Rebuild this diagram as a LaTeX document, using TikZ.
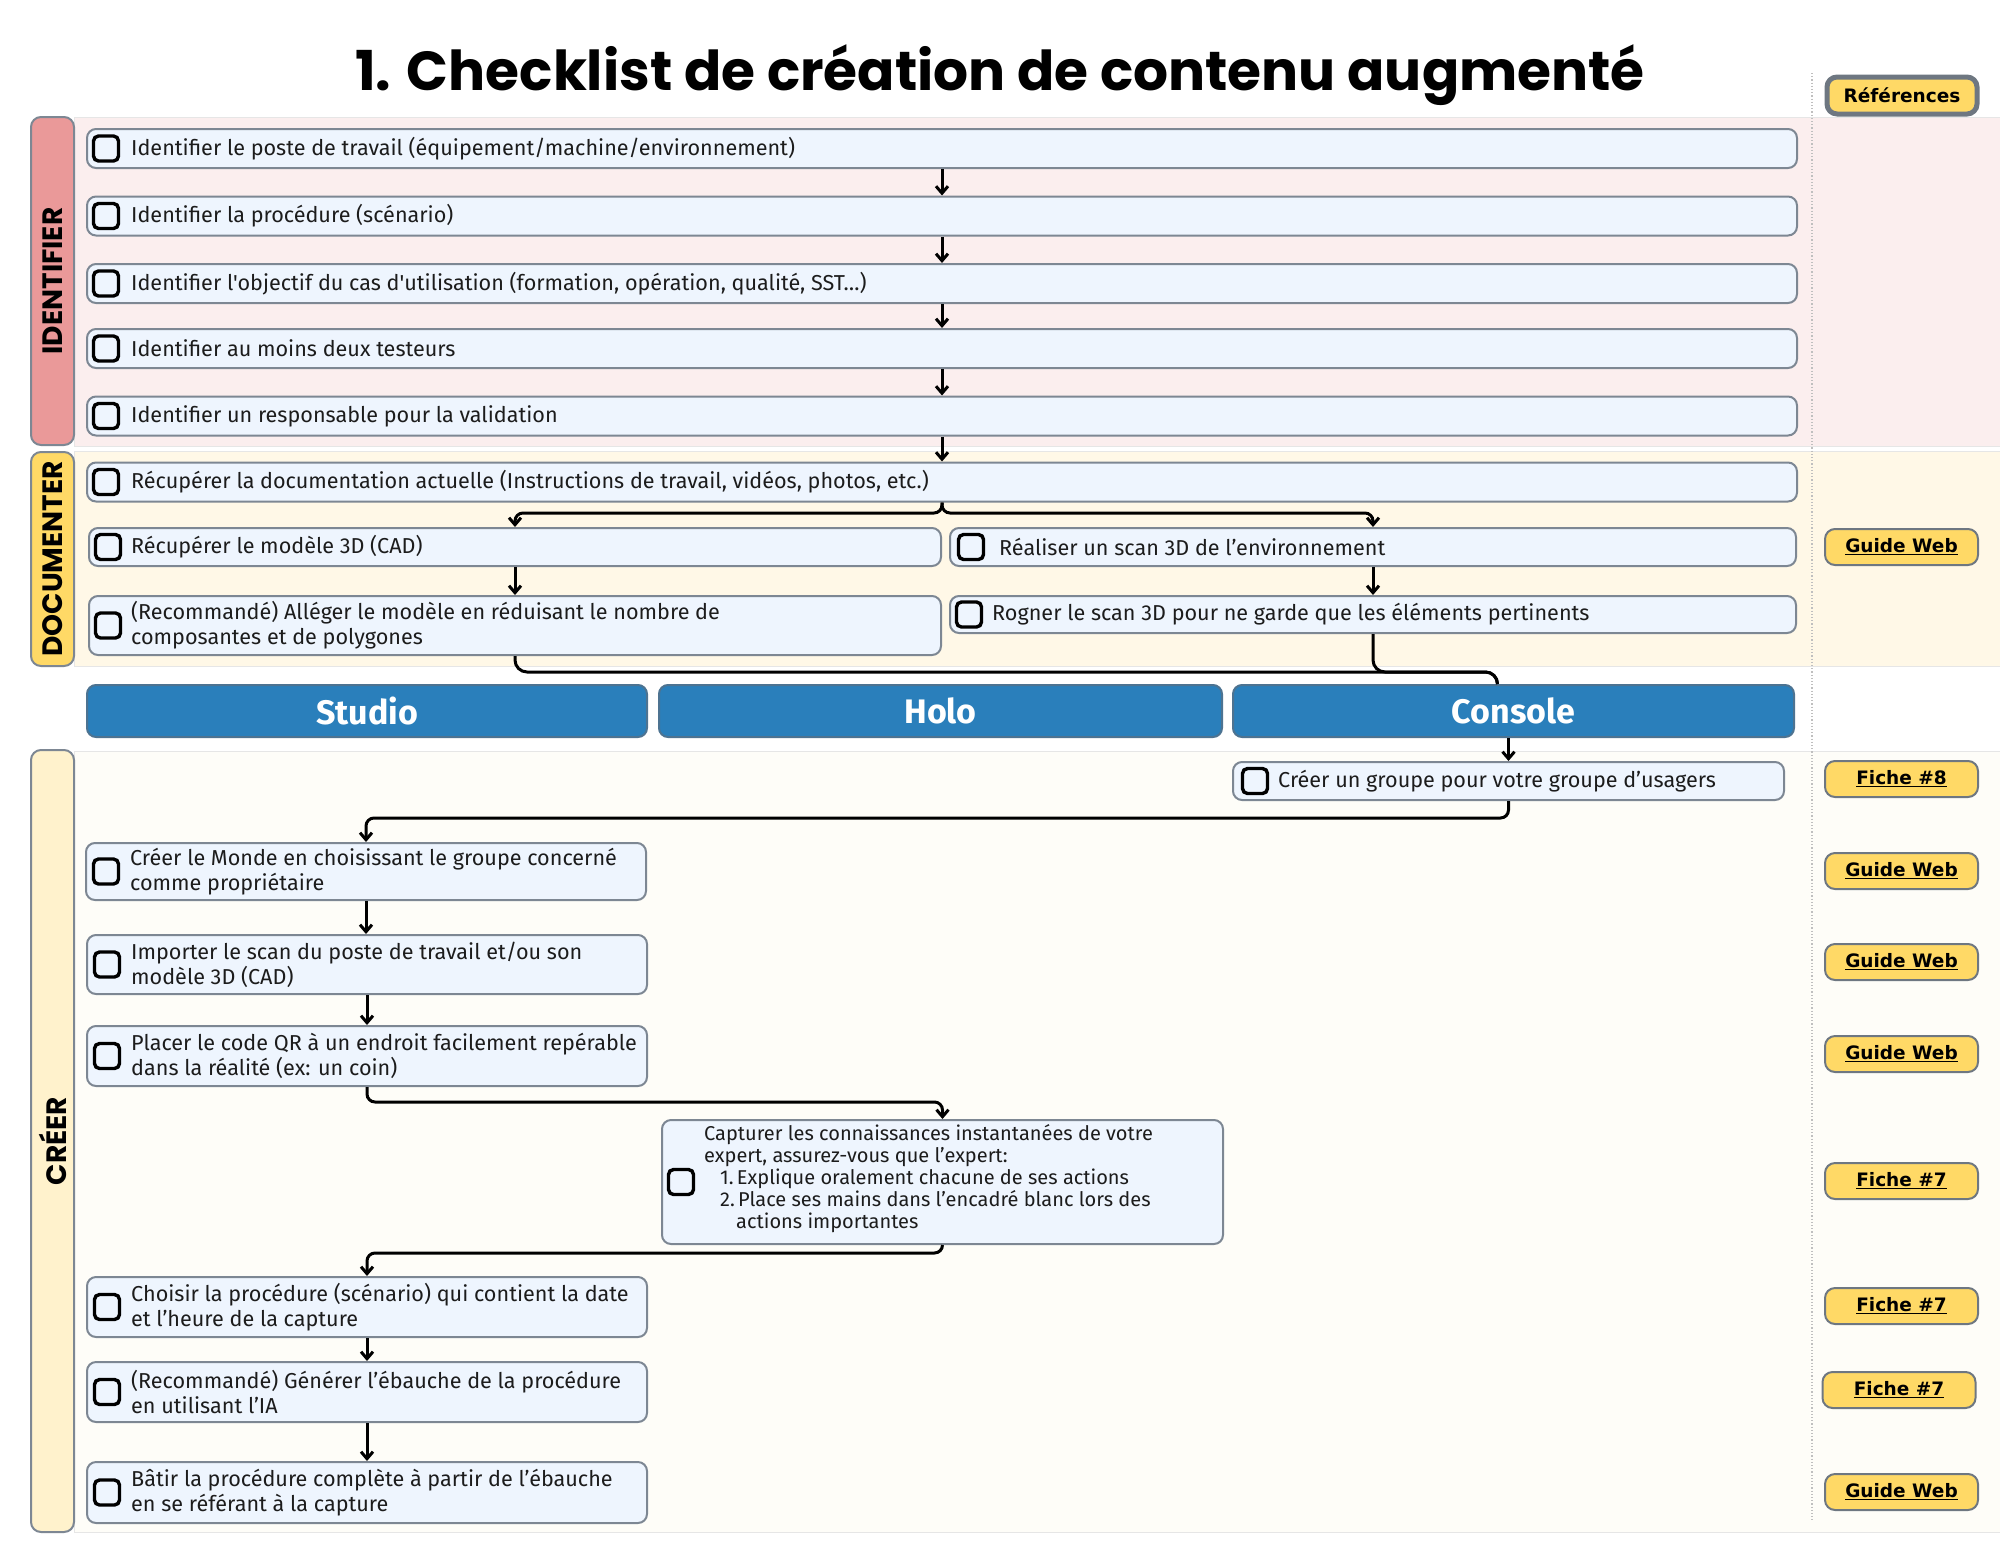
\documentclass[tikz,border=0pt]{standalone}
\usepackage{fontspec}
\newfontfamily\bodyfont{Fira Sans}
\newfontfamily\titlefont{Poppins}
\newfontfamily\badgefont{DejaVu Sans}
\usetikzlibrary{arrows.meta}
\definecolor{identfill}{HTML}{EA9999}
\definecolor{identbg}{HTML}{FBEEEE}
\definecolor{docfill}{HTML}{FFD966}
\definecolor{docbg}{HTML}{FFF8E7}
\definecolor{creerfill}{HTML}{FFF2CC}
\definecolor{creerbg}{HTML}{FEFDF8}
\definecolor{boxfill}{HTML}{EEF5FE}
\definecolor{boxline}{HTML}{7D8793}
\definecolor{laneline}{HTML}{7D8793}
\definecolor{bandline}{HTML}{E6E6E6}
\definecolor{toolblue}{HTML}{2A7FBB}
\definecolor{toolline}{HTML}{4D7391}
\definecolor{refyellow}{HTML}{FFD966}
\definecolor{refline}{HTML}{6E7781}
\definecolor{textdark}{HTML}{1C1C1C}
\begin{document}
\begin{tikzpicture}[x=1pt, y=-1pt,
  stepbox/.style={draw=boxline, fill=boxfill, line width=2, rounded corners=9, inner sep=0},
  chk/.style={draw=black, line width=3.4, rounded corners=5, minimum width=25, minimum height=25, inner sep=0},
  steptext/.style={anchor=west, align=left, inner sep=0, text=textdark, font=\bodyfont\fontsize{21.6}{25}\selectfont},
  lanebox/.style={draw=laneline, line width=2, rounded corners=10, minimum width=43, inner sep=0},
  lanetext/.style={rotate=90, text=black, font=\titlefont\bfseries\fontsize{28}{28}\selectfont},
  tool/.style={draw=toolline, fill=toolblue, line width=2, rounded corners=9, minimum height=52, text=white, font=\bodyfont\bfseries\fontsize{34}{34}\selectfont},
  ref/.style={draw=refline, fill=refyellow, line width=2, rounded corners=10, minimum width=153, minimum height=36, inner sep=0, font=\badgefont\bfseries\fontsize{18.5}{18.5}\selectfont},
  arr/.style={line width=3, -{Straight Barb[length=7pt, width=12pt]}},
  link/.style={line width=3, rounded corners=12}]
\useasboundingbox (0,0) rectangle (2000,1545);
\fill[white] (0,0) rectangle (2000,1545);

% bands
\filldraw[fill=identbg, draw=bandline, line width=1] (74,117) rectangle (2001,446);
\filldraw[fill=docbg, draw=bandline, line width=1] (74,451) rectangle (2001,666);
\filldraw[fill=creerbg, draw=bandline, line width=1] (74,751) rectangle (2001,1532);
\draw[dotted, line width=1.2, black!25] (1812,73) -- (1812,1520);

\node[lanebox, fill=identfill, minimum height=328] (lid) at (52.5,281) {};
\node[lanetext] at (lid.center) {IDENTIFIER};
\node[lanebox, fill=docfill, minimum height=214] (ldoc) at (52.5,559) {};
\node[lanetext] at (ldoc.center) {DOCUMENTER};
\node[lanebox, fill=creerfill, minimum height=782] (lcreer) at (52.5,1141) {};
\node[lanetext] at (lcreer.center) {CRÉER};

\node[anchor=base, text=black, font=\titlefont\bfseries\fontsize{55}{55}\selectfont] (title) at (1000,90) {1. Checklist de création de contenu augmenté};
\node[ref, line width=5, minimum width=150, minimum height=37] (refhead) at (1902,95.5) {Références};

% IDENTIFIER
\node[stepbox, minimum width=1710, minimum height=39] (id1) at (942,148.5) {};
\node[chk] at ([xshift=20]id1.west) {};
\node[steptext] at ([xshift=45]id1.west) {Identifier le poste de travail (équipement/machine/environnement)};
\node[stepbox, minimum width=1710, minimum height=39] (id2) at (942,216) {};
\node[chk] at ([xshift=20]id2.west) {};
\node[steptext] at ([xshift=45]id2.west) {Identifier la procédure (scénario)};
\node[stepbox, minimum width=1710, minimum height=39] (id3) at (942,283.5) {};
\node[chk] at ([xshift=20]id3.west) {};
\node[steptext] at ([xshift=45]id3.west) {Identifier l'objectif du cas d'utilisation (formation, opération, qualité, SST…)};
\node[stepbox, minimum width=1710, minimum height=39] (id4) at (942,348.5) {};
\node[chk] at ([xshift=20]id4.west) {};
\node[steptext] at ([xshift=45]id4.west) {Identifier au moins deux testeurs};
\node[stepbox, minimum width=1710, minimum height=39] (id5) at (942,416) {};
\node[chk] at ([xshift=20]id5.west) {};
\node[steptext] at ([xshift=45]id5.west) {Identifier un responsable pour la validation};
\draw[arr] (id1.south) -- (id2.north);
\draw[arr] (id2.south) -- (id3.north);
\draw[arr] (id3.south) -- (id4.north);
\draw[arr] (id4.south) -- (id5.north);

% DOCUMENTER
\node[stepbox, minimum width=1710, minimum height=39] (doc1) at (942,482) {};
\node[chk] at ([xshift=20]doc1.west) {};
\node[steptext] at ([xshift=45]doc1.west) {Récupérer la documentation actuelle (Instructions de travail, vidéos, photos, etc.)};
\node[stepbox, minimum width=852, minimum height=38] (doc2l) at (515,547) {};
\node[chk] at ([xshift=20]doc2l.west) {};
\node[steptext] at ([xshift=43]doc2l.west) {Récupérer le modèle 3D (CAD)};
\node[stepbox, minimum width=846, minimum height=38] (doc2r) at (1373,547) {};
\node[chk] at ([xshift=22]doc2r.west) {};
\node[steptext] at ([xshift=50]doc2r.west) {Réaliser un scan 3D de l’environnement};
\node[stepbox, minimum width=852, minimum height=59] (doc3l) at (515,625.5) {};
\node[chk] at ([xshift=20]doc3l.west) {};
\node[steptext] at ([xshift=43]doc3l.west) {(Recommandé) Alléger le modèle en réduisant le nombre de\\composantes et de polygones};
\node[stepbox, minimum width=846, minimum height=37] (doc3r) at (1373,614.5) {};
\node[chk] at ([xshift=20]doc3r.west) {};
\node[steptext] at ([xshift=43]doc3r.west) {Rogner le scan 3D pour ne garde que les éléments pertinents};
\node[ref] (rdoc) at (1901.5,547) {\underline{Guide Web}};
\draw[arr] (id5.south) -- (doc1.north);
\coordinate (split) at (942,513);
\draw[arr, rounded corners=8] (doc1.south) -- (split) -| (doc2l.north);
\draw[arr, rounded corners=8] (doc1.south) -- (split) -| (doc2r.north);
\draw[arr] (doc2l.south) -- (doc3l.north);
\draw[arr] (doc2r.south) -- (doc3r.north);

% outils
\node[tool, minimum width=560] (studio) at (367,711) {Studio};
\node[tool, minimum width=563] (holo) at (940.5,711) {Holo};
\node[tool, minimum width=561] (console) at (1513.5,711) {Console};
\draw[link] (doc3l.south) -- ++(0,16) -| ([xshift=-16]console.north);
\draw[link] (doc3r.south) -- ++(0,38) -| ([xshift=-16]console.north);

% CREER
\node[stepbox, minimum width=551, minimum height=38] (grp) at (1508.5,781) {};
\node[chk] at ([xshift=23]grp.west) {};
\node[steptext] at ([xshift=46]grp.west) {Créer un groupe pour votre groupe d’usagers};
\node[stepbox, minimum width=560, minimum height=57] (cr1) at (366,871.5) {};
\node[chk] at ([xshift=21]cr1.west) {};
\node[steptext] at ([xshift=45]cr1.west) {Créer le Monde en choisissant le groupe concerné\\comme propriétaire};
\node[stepbox, minimum width=560, minimum height=59] (cr2) at (367,964.5) {};
\node[chk] at ([xshift=21]cr2.west) {};
\node[steptext] at ([xshift=45]cr2.west) {Importer le scan du poste de travail et/ou son\\modèle 3D (CAD)};
\node[stepbox, minimum width=560, minimum height=60] (cr3) at (367,1056) {};
\node[chk] at ([xshift=21]cr3.west) {};
\node[steptext] at ([xshift=45]cr3.west) {Placer le code QR à un endroit facilement repérable\\dans la réalité (ex: un coin)};
\node[stepbox, minimum width=561, minimum height=124] (cap) at (942.5,1182) {};
\node[chk] at ([xshift=20]cap.west) {};
\node[steptext, font=\bodyfont\fontsize{20}{22}\selectfont] at ([xshift=43,yshift=3]cap.west) {Capturer les connaissances instantanées de votre\\expert, assurez-vous que l’expert:\\\hspace*{16pt}1.\,Explique oralement chacune de ses actions\\\hspace*{16pt}2.\,Place ses mains dans l’encadré blanc lors des\\\hspace*{32pt}actions importantes};
\node[stepbox, minimum width=560, minimum height=60] (cr4) at (367,1307) {};
\node[chk] at ([xshift=21]cr4.west) {};
\node[steptext] at ([xshift=45]cr4.west) {Choisir la procédure (scénario) qui contient la date\\et l’heure de la capture};
\node[stepbox, minimum width=560, minimum height=60] (cr5) at (367,1392) {};
\node[chk] at ([xshift=21]cr5.west) {};
\node[steptext] at ([xshift=45]cr5.west) {(Recommandé) Générer l’ébauche de la procédure\\en utilisant l’IA};
\node[stepbox, minimum width=560, minimum height=61] (cr6) at (367,1492.5) {};
\node[chk] at ([xshift=21]cr6.west) {};
\node[steptext] at ([xshift=45]cr6.west) {Bâtir la procédure complète à partir de l’ébauche\\en se référant à la capture};

\node[ref] (rgrp) at (1901.5,779) {\underline{Fiche \#8}};
\node[ref] (rcr1) at (1901.5,871) {\underline{Guide Web}};
\node[ref] (rcr2) at (1901.5,962) {\underline{Guide Web}};
\node[ref] (rcr3) at (1901.5,1054) {\underline{Guide Web}};
\node[ref] (rcap) at (1901.5,1181) {\underline{Fiche \#7}};
\node[ref] (rcr4) at (1901.5,1306) {\underline{Fiche \#7}};
\node[ref] (rcr5) at (1899,1390) {\underline{Fiche \#7}};
\node[ref] (rcr6) at (1901.5,1492) {\underline{Guide Web}};

\draw[arr] (grp.north |- console.south) -- (grp.north);
\draw[arr, rounded corners=8] (grp.south) -- ++(0,17) -| (cr1.north);
\draw[arr] (cr1.south) -- (cr1.south |- cr2.north);
\draw[arr] (cr2.south) -- (cr3.north);
\draw[arr, rounded corners=8] (cr3.south) -- ++(0,15) -| (cap.north);
\draw[arr, rounded corners=8] (cap.south) -- ++(0,8) -| (cr4.north);
\draw[arr] (cr4.south) -- (cr5.north);
\draw[arr] (cr5.south) -- (cr6.north);
\end{tikzpicture}
\end{document}
